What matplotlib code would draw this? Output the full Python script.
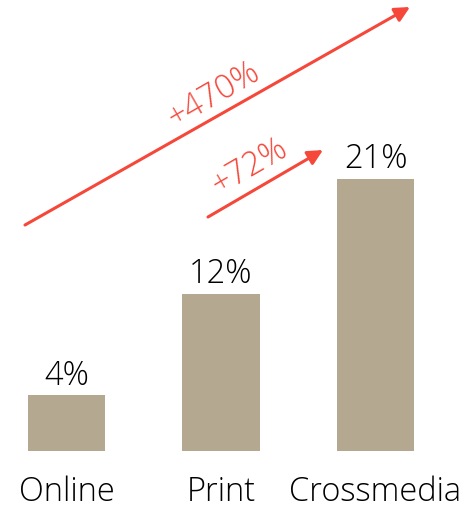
import matplotlib
matplotlib.use("Agg")
import matplotlib.pyplot as plt

categories = ["Online", "Print", "Crossmedia"]
values = [4.3, 12.1, 21.0]
value_labels = ["4%", "12%", "21%"]
growth_labels = ["+470%", "+72%"]

BAR = "#B4A891"
RED = "#F5483A"
plt.rcParams['font.family'] = ['Open Sans', 'DejaVu Sans']

fig = plt.figure(figsize=(4.76, 5.10), dpi=100)
ax = fig.add_axes([0, 58 / 510, 1, 452 / 510])
x = list(range(len(categories)))
ax.bar(x, values, width=0.5, color=BAR)
ax.set_xlim(-0.43, 2.65)
ax.set_ylim(0, 34.9)
for xi, v, lab in zip(x, values, value_labels):
    ax.annotate(lab, (xi, v), xytext=(0, 8.5), textcoords="offset points",
                ha="center", va="baseline", fontsize=23.5, fontweight="light", color="#000000")
for xi, c in zip(x, categories):
    ax.annotate(c, (xi, 0), xytext=(0, -35.5), textcoords="offset points",
                ha="center", va="baseline", fontsize=23.5, fontweight="light", color="#000000")
ax.axis("off")

W, H = 476, 510
def fp(px, py):
    return (px / W, 1 - py / H)

arrowprops = dict(arrowstyle="-|>,head_length=0.9,head_width=0.45", color=RED, lw=2.2,
                  shrinkA=0, shrinkB=0)
ax.annotate("", xy=fp(410, 8), xytext=fp(25, 226), xycoords="figure fraction",
            textcoords="figure fraction", arrowprops=arrowprops)
ax.annotate("", xy=fp(323, 151), xytext=fp(208, 218), xycoords="figure fraction",
            textcoords="figure fraction", arrowprops=arrowprops)
fig.text(*fp(214, 95), growth_labels[0], rotation=30, ha="center", va="center",
         fontsize=23.5, fontweight="light", color=RED, rotation_mode="anchor")
fig.text(*fp(249, 167), growth_labels[1], rotation=30, ha="center", va="center",
         fontsize=23.5, fontweight="light", color=RED, rotation_mode="anchor")

fig.savefig("out.png", dpi=100)
